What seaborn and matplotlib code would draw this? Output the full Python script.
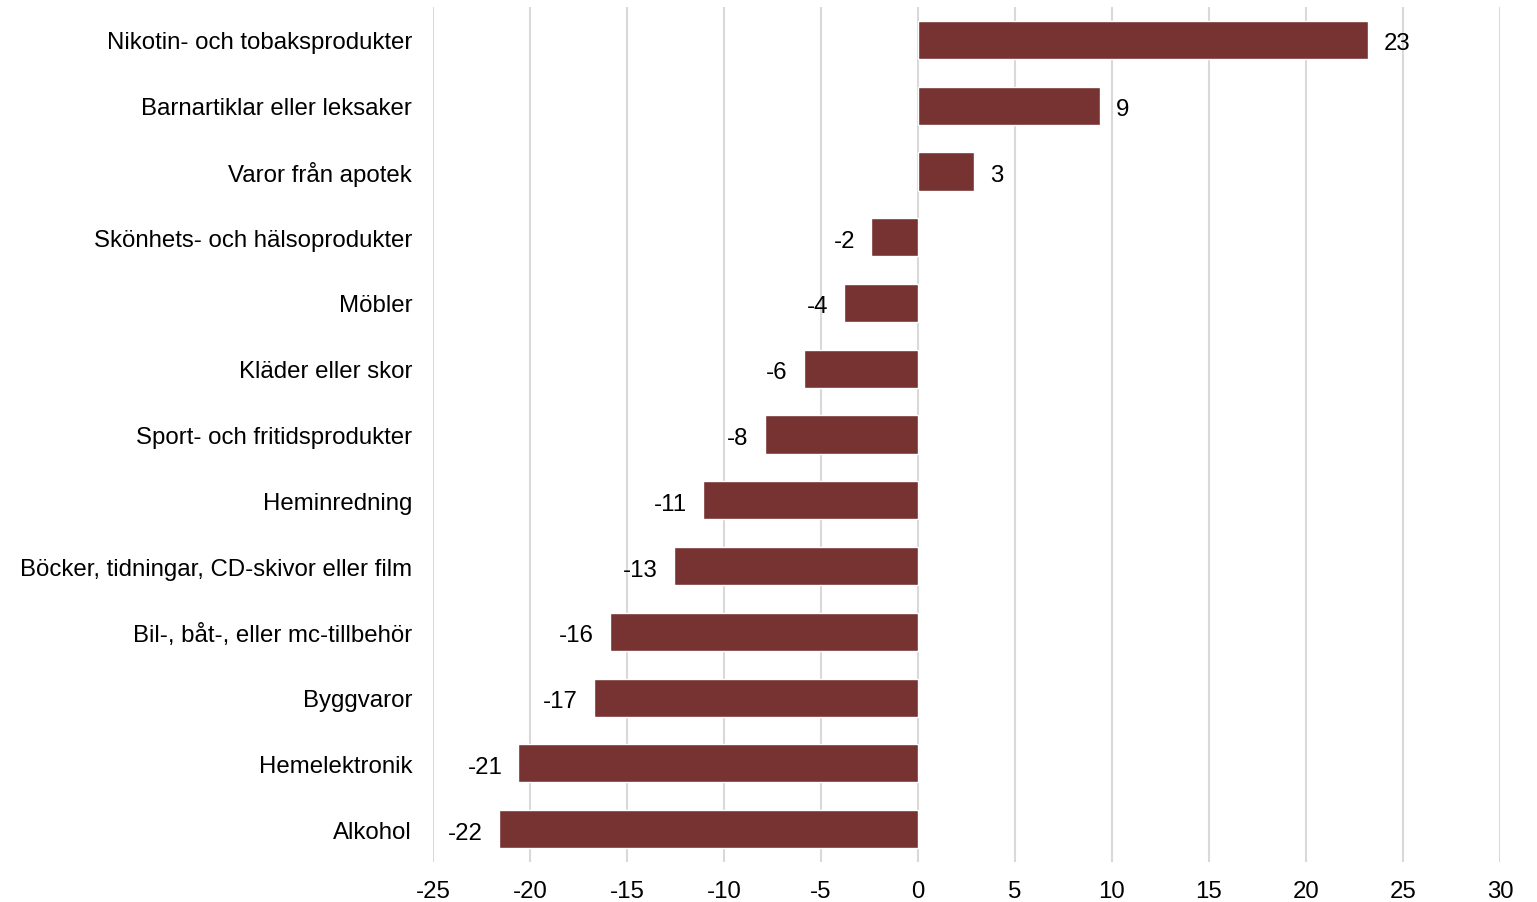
import matplotlib
matplotlib.use("Agg")
import matplotlib.pyplot as plt
import seaborn as sns
import pandas as pd

categories = [
    "Nikotin- och tobaksprodukter",
    "Barnartiklar eller leksaker",
    "Varor från apotek",
    "Skönhets- och hälsoprodukter",
    "Möbler",
    "Kläder eller skor",
    "Sport- och fritidsprodukter",
    "Heminredning",
    "Böcker, tidningar, CD-skivor eller film",
    "Bil-, båt-, eller mc-tillbehör",
    "Byggvaror",
    "Hemelektronik",
    "Alkohol",
]
values = [23.2, 9.4, 2.9, -2.4, -3.8, -5.9, -7.9, -11.1, -12.6, -15.9, -16.7, -20.6, -21.6]
xticks = [-25, -20, -15, -10, -5, 0, 5, 10, 15, 20, 25, 30]

sns.set_theme(style="white")
plt.rcParams["font.family"] = ["Liberation Sans", "DejaVu Sans"]

df = pd.DataFrame({"cat": categories, "val": values})

fig = plt.figure(figsize=(15.37, 9.03), dpi=100)
ax = fig.add_axes([0.2817, 0.0443, 0.6942, 0.9468])

sns.barplot(data=df, x="val", y="cat", orient="h", color="#773232",
            width=0.58, saturation=1, ax=ax, order=categories)

ax.set_xlim(-25, 30)
ax.set_ylim(len(categories) - 0.5, -0.5)
ax.set_xticks(xticks)
ax.set_xticklabels([str(t) for t in xticks])
ax.grid(axis="x", color="#D9D9D9", linewidth=1.5)
ax.set_axisbelow(True)
for s in ax.spines.values():
    s.set_visible(False)
ax.set_xlabel("")
ax.set_ylabel("")
ax.tick_params(axis="x", labelsize=17.3, pad=13, length=0, colors="black")
ax.tick_params(axis="y", labelsize=17.3, pad=15, length=0, colors="black")

for i, v in enumerate(values):
    ax.annotate(f"{round(v):d}", xy=(v, i), xytext=(11.5 if v > 0 else -11.5, -2.5),
                textcoords="offset points", ha="left" if v > 0 else "right",
                va="center", fontsize=17.3, color="black")

fig.savefig("out.png", dpi=100)
